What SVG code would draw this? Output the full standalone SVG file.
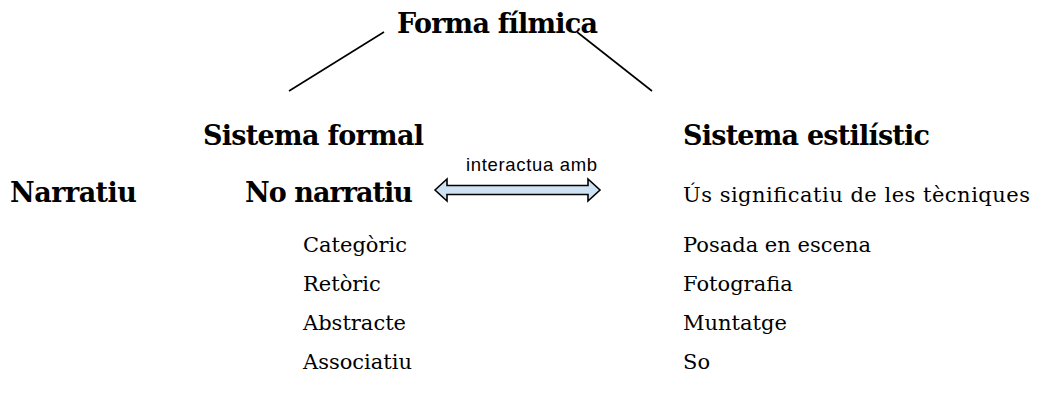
<svg xmlns="http://www.w3.org/2000/svg" width="1041" height="400" viewBox="0 0 1041 400">
<style>
.b{font-family:"DejaVu Serif","Liberation Serif",serif;font-weight:bold;font-size:27px;fill:#000}
.r{font-family:"DejaVu Serif","Liberation Serif",serif;font-size:21px;fill:#000}
.s{font-family:"Liberation Sans",Arial,sans-serif;font-size:18.5px;fill:#000}
.ln{stroke:#000;stroke-width:1.6;fill:none}
.arr{fill:#cfe2f3;stroke:#000;stroke-width:1.6;stroke-linejoin:miter}
</style>
<rect width="1041" height="400" fill="#fff"/>
<g id="connectors">
<line class="ln" x1="289" y1="91" x2="384" y2="32"/>
<line class="ln" x1="577" y1="32" x2="652" y2="91"/>
<path class="arr" d="M435,190 L447,179 L447,185.5 L588,185.5 L588,179 L600,190 L588,201 L588,194.5 L447,194.5 L447,201 Z"/>
<text class="s" x="466" y="171" textLength="131">interactua amb</text>
</g>
<g id="forma"><text class="b" x="397" y="33" textLength="201">Forma fílmica</text></g>
<g id="sistema-formal"><text class="b" x="203" y="145" textLength="221">Sistema formal</text></g>
<g id="sistema-estilistic"><text class="b" x="683" y="145" textLength="247">Sistema estilístic</text></g>
<g id="narratiu"><text class="b" x="10" y="202" textLength="127">Narratiu</text></g>
<g id="no-narratiu"><text class="b" x="245" y="202" textLength="168">No narratiu</text></g>
<g id="us"><text class="r" x="683" y="202" textLength="347">Ús significatiu de les tècniques</text></g>
<g id="categoric"><text class="r" x="303" y="252" textLength="104">Categòric</text></g>
<g id="retoric"><text class="r" x="303" y="291">Retòric</text></g>
<g id="abstracte"><text class="r" x="303" y="330">Abstracte</text></g>
<g id="associatiu"><text class="r" x="303" y="369">Associatiu</text></g>
<g id="posada"><text class="r" x="683" y="252">Posada en escena</text></g>
<g id="fotografia"><text class="r" x="683" y="291">Fotografia</text></g>
<g id="muntatge"><text class="r" x="683" y="330">Muntatge</text></g>
<g id="so"><text class="r" x="683" y="369">So</text></g>
</svg>
